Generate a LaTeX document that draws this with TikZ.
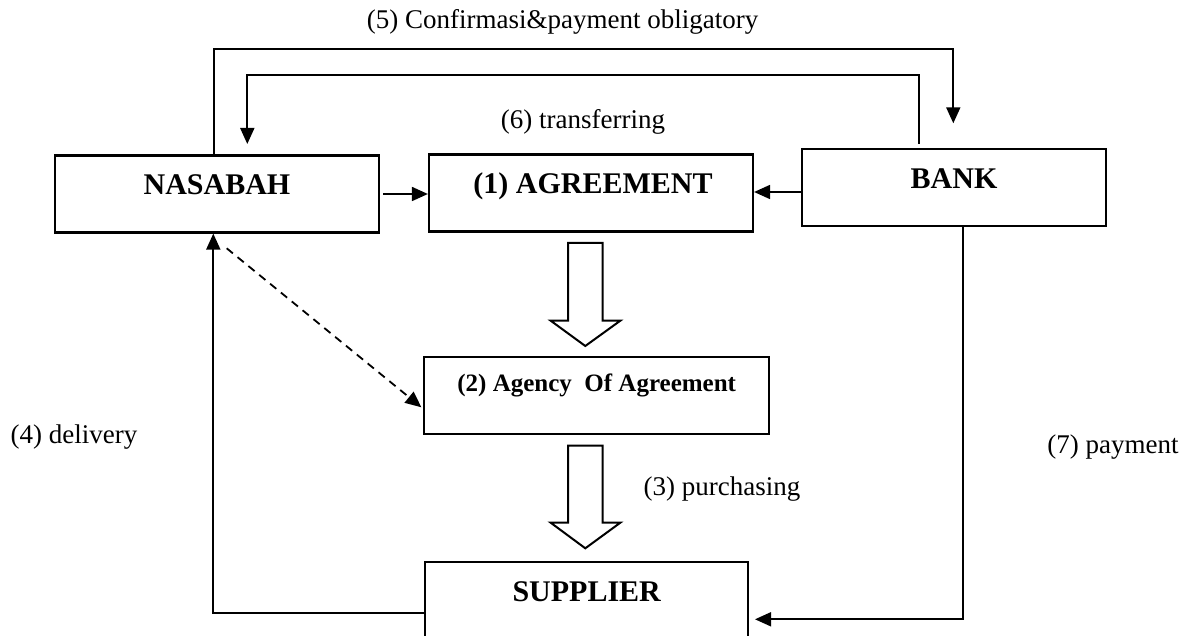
\documentclass[tikz,border=0pt]{standalone}
\usepackage{fontspec}
\setmainfont{Liberation Serif}
\usetikzlibrary{arrows.meta,calc}

\begin{document}
\begin{tikzpicture}[x=1pt,y=-1pt,
  box/.style={draw,line width=2.2pt,rectangle,inner sep=0pt},
  conn/.style={line width=1.8pt,-{Triangle[length=16pt,width=14pt]}},
  dashconn/.style={conn,dash pattern=on 8pt off 6pt},
  lbl/.style={font=\fontsize{27}{30}\selectfont,anchor=base,inner sep=0pt},
  boxtxt/.style={font=\bfseries\fontsize{30}{33}\selectfont,anchor=base,inner sep=0pt},
  smalltxt/.style={font=\bfseries\fontsize{25}{28}\selectfont,anchor=base,inner sep=0pt},
  blockarrow/.style={draw,line width=2pt,fill=white,line join=miter}]

\useasboundingbox (0,0) rectangle (1195,636);

% boxes
\node[box,minimum width=324pt,minimum height=77pt] (nas) at (217,194) {};
\node[box,minimum width=324pt,minimum height=77pt] (agr) at (591,193) {};
\node[box,minimum width=304pt,minimum height=77pt] (bank) at (954,187.3) {};
\node[box,minimum width=345pt,minimum height=77.6pt] (agency) at (596.7,395.5) {};
\node[box,minimum width=323pt,minimum height=74.7pt] (sup) at (586.7,599.65) {};

% box texts
\node[boxtxt] (nast) at (217,195) {NASABAH};
\node[boxtxt] (agrt) at (593,193.3) {(1) AGREEMENT};
\node[boxtxt] (bankt) at (954,188.3) {BANK};
\node[smalltxt] (agencyt) at (596.7,391.7) {(2) Agency\ \ Of Agreement};
\node[boxtxt] (supt) at (586.7,601.7) {SUPPLIER};

% hollow block arrows
\draw[blockarrow] (568,243) -- (602.7,243) -- (602.7,320.7) -- (620.3,320.7)
  -- (585.3,346) -- (550.7,320.7) -- (568,320.7) -- cycle;
\draw[blockarrow] (568,445.7) -- (602.7,445.7) -- (602.7,522.7) -- (620.3,522.7)
  -- (585.3,548.3) -- (550.7,522.7) -- (568,522.7) -- cycle;

% (5) confirmation and payment obligation
\coordinate (c5top) at (953.3,49.3);
\coordinate (c5end) at (953.3,123.3);
\draw[conn] ([xshift=-3.3pt]nas.north) |- (c5top) -- (c5end);

% (6) transferring
\coordinate (c6top) at (247.3,75);
\coordinate (c6end) at (247.3,144);
\draw[conn] ([xshift=-34.7pt,yshift=4pt]bank.north) |- (c6top) -- (c6end);

% into the agreement
\draw[conn] ([xshift=3pt]nas.east) -- (nas.east -| agr.west);
\draw[conn] ([yshift=-4.7pt]bank.west) -- ([yshift=-4.7pt]bank.west -| agr.east);

% (4) delivery
\draw[conn] ([yshift=-13.7pt]sup.west) -| ([xshift=-3.7pt]nas.south);

% (7) payment
\coordinate (c7end) at (755,619.3);
\draw[conn] ([xshift=8.7pt]bank.south) |- (c7end);

% agency link
\coordinate (dstart) at (226.7,248.3);
\draw[dashconn] (dstart) -- ([xshift=-1.7pt,yshift=-11.8pt]agency.west);

% labels
\node[lbl] (l5) at (562.5,28.5) {(5) Confirmasi\&payment obligatory};
\node[lbl] (l6) at (583,128.3) {(6) transferring};
\node[lbl] (l4) at (74,443.3) {(4) delivery};
\node[lbl] (l3) at (722,495) {(3) purchasing};
\node[lbl] (l7) at (1113,453.3) {(7) payment};
\end{tikzpicture}
\end{document}
